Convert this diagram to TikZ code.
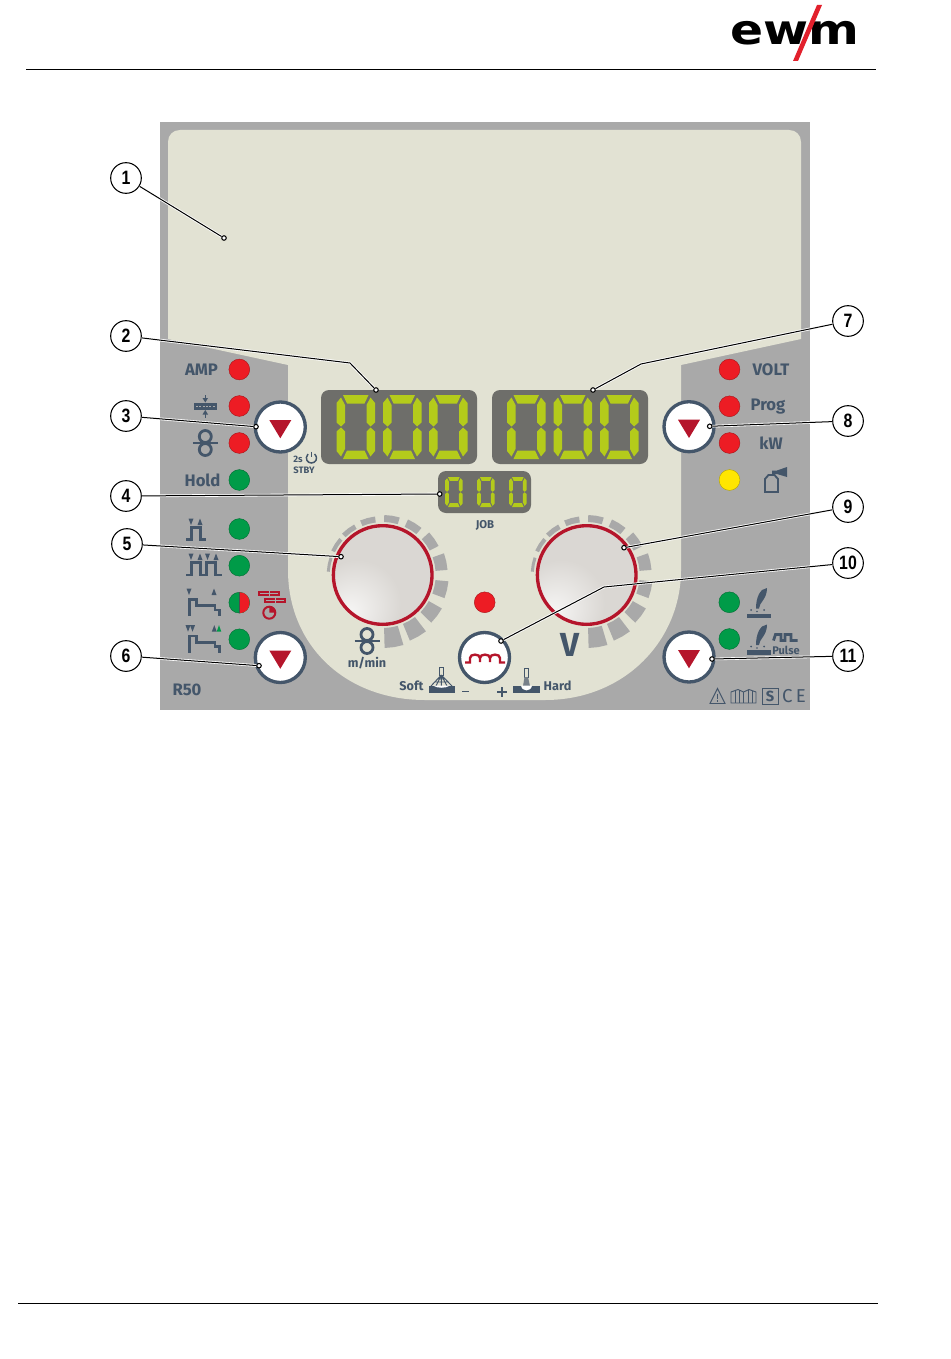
\documentclass[tikz,border=0pt]{standalone}
\usepackage{fontspec}
\setmainfont{Fira Sans}
\newfontfamily\numfont{Liberation Sans}
\newfontfamily\logofont{DejaVu Sans}
\definecolor{panelgrey}{HTML}{A9A9A9}
\definecolor{panelcream}{HTML}{E2E2D3}
\definecolor{slate}{HTML}{44566A}
\definecolor{dispgrey}{HTML}{6E6E6A}
\definecolor{seggreen}{HTML}{B4CB1B}
\definecolor{ledred}{HTML}{ED1C24}
\definecolor{ledgreen}{HTML}{009B48}
\definecolor{ledyellow}{HTML}{FFE600}
\definecolor{darkred}{HTML}{B5152B}
\definecolor{logored}{HTML}{E2202C}
\definecolor{knobmid}{HTML}{DAD7D3}
\definecolor{knobedge}{HTML}{BDBAB5}
\pgfdeclareradialshading{knobshade}{\pgfpoint{-18bp}{-20bp}}{color(0bp)=(white!80!knobmid);color(22bp)=(knobmid);color(68bp)=(knobmid);color(76bp)=(knobedge)}
\tikzset{
	led/.style={circle,minimum size=15.6pt,inner sep=0pt,line width=.3pt,draw=#1!70!black,fill=#1},
	btn/.style={circle,minimum size=37.5pt,inner sep=0pt,draw=slate,line width=2.5pt,fill=white},
	knob/.style={circle,minimum size=74pt,inner sep=0pt,draw=darkred,line width=2.5pt,shade,shading=knobshade},
	callout/.style={circle,minimum size=23pt,inner sep=0pt,draw=black,line width=.8pt,fill=white,font=\numfont\fontsize{14.5}{16}\selectfont\bfseries},
	enddot/.style={circle,minimum size=3.4pt,inner sep=0pt,draw=black,line width=.8pt,fill=white},
	leader/.style={draw=black,line width=.75pt,preaction={draw=white,line width=2pt}},
	lbl/.style={inner sep=0pt,text=slate,font=\fontsize{12.5}{14}\selectfont\bfseries},
	smalllbl/.style={inner sep=0pt,text=slate,font=\fontsize{7}{8}\selectfont\bfseries},
	icon/.style={draw=slate,line width=2.1pt,fill=none},
	thinicon/.style={draw=slate,line width=1pt,fill=none},
	triup/.pic={\fill[slate] (-2.5,5) -- (0,-1.5) -- (2.5,5) -- cycle;},
	tridown/.pic={\fill[slate] (-2.5,-1.5) -- (2.5,-1.5) -- (0,5) -- cycle;},
	% one digit 0 of the seven-segment display
	zerodigit/.pic={\fill[seggreen]
		(6.5,0) -- (32,0) -- (28,8.5) -- (10.5,8.5) -- cycle
		(6.5,64) -- (32,64) -- (28,55.5) -- (10.5,55.5) -- cycle
		(0,8) -- (4.5,2.5) -- (8.5,10) -- (8.5,27.5) -- (4.5,31.5) -- (0,27.5) -- cycle
		(0,56) -- (4.5,61.5) -- (8.5,54) -- (8.5,36.5) -- (4.5,32.5) -- (0,36.5) -- cycle
		(38.5,8) -- (34,2.5) -- (30,10) -- (30,27.5) -- (34,31.5) -- (38.5,27.5) -- cycle
		(38.5,56) -- (34,61.5) -- (30,54) -- (30,36.5) -- (34,32.5) -- (38.5,36.5) -- cycle;},
	wirefeed/.pic={
		\draw[icon] (0,-6.5) circle (6) (0,6.5) circle (6);
		\draw[icon] (-12.5,0) -- (12.5,0);},
	feather/.pic={
		\fill[slate] (20,.5) .. controls (13,1) and (9,10) .. (9,21) -- (12,21) .. controls (12,15) and (20,12) .. (20,.5) -- cycle;
		\fill[slate] (4,22.5) circle (1) (17,22.5) circle (1) (10,24) circle (.8);
		\fill[slate] (0,26) rectangle (24,30.5);},
}
\begin{document}
\begin{tikzpicture}[x=.75pt,y=-.75pt]
	\useasboundingbox (0,0) rectangle (950,1359);
	% header and footer
	\draw[line width=.75pt] (26,70) -- (876,70);
	\draw[line width=.75pt] (18,1303) -- (878,1303);
	\node[inner sep=0pt,xscale=1.18,font=\logofont\fontsize{31}{32}\selectfont\bfseries] (logo) at (794.5,33.5) {ewm};
	\fill[logored] (817,5) -- (822,5) -- (798,61) -- (793,61) -- cycle;
	% panel
	\fill[panelgrey] (160,122) rectangle (810,710);
	\fill[panelcream] (168,339) -- (168,142) .. controls (168,135) and (173,130) .. (180,130) -- (789,130)
		.. controls (796,130) and (801,135) .. (801,142) -- (801,339) -- (681,365) -- (681,570)
		.. controls (681,640) and (625,700) .. (545,700) -- (425,700)
		.. controls (345,700) and (288,645) .. (288,570) -- (288,365) -- cycle;
	% displays
	\fill[dispgrey,rounded corners=6pt] (321,390) rectangle (477,464);
	\fill[dispgrey,rounded corners=6pt] (492,390) rectangle (648,464);
	\fill[dispgrey,rounded corners=6pt] (438,471) rectangle (531,513);
	\foreach \x in {336.5,383,429,507,553.5,600}
		\pic at (\x,395) {zerodigit};
	\foreach \x in {445,477,509}
		\pic[xscale=.46,yscale=.47] at (\x,477) {zerodigit};
	% scale marks round the knobs
	\foreach \kx in {382.7,586.7}
		\foreach \c/\t in {-169/3,-147/4,-127/5,-105/6,-81/7,-58/8,-35/10,-12/12,13/13,37/15,60/18,81/20}
			\fill[panelgrey,shift={(\kx,575)}] (\c-7.5:53) -- (\c:53) -- (\c+7.5:53) -- (\c+7.5:53+\t) -- (\c:53+\t) -- (\c-7.5:53+\t) -- cycle;
	\node[knob] (knobL) at (382.7,575) {};
	\node[knob] (knobR) at (586.7,575) {};
	% leds
	\foreach \n/\x/\y in {a/239.3/369.5,b/239.3/406,c/239.3/443,d/729.5/369.5,e/729.5/406.3,f/729.5/443,g/484.7/602.3}
		\node[led=ledred] (led\n) at (\x,\y) {};
	\foreach \n/\x/\y in {h/239.3/480,i/239.3/529,j/239.3/565.7,k/239.3/639.3,l/729.3/602.3,m/729.3/639}
		\node[led=ledgreen] (led\n) at (\x,\y) {};
	\node[led=ledyellow] (ledn) at (729.5,480) {};
	\node[led=ledgreen] (ledo) at (239.3,602.7) {};
	\fill[ledred] (239.3,592.2) -- (239.3,613.2) .. controls (253,613.2) and (253,592.2) .. (239.3,592.2);
	\draw[line width=.6pt,black!70] (239.3,592.2) -- (239.3,613.2);
	% buttons
	\foreach \n/\x/\y in {a/280.3/427,b/280.3/657.5,c/689/426.7,d/689/657}{
		\node[btn] (btn\n) at (\x,\y) {};
		\fill[darkred,shift={(\x,\y)}] (-11,-7) -- (11,-7) -- (0,11.3) -- cycle;}
	\node[btn] (btne) at (484.5,657.5) {};
	\draw[darkred,line width=1.8pt] (465,662.5) -- (470,662.5) -- (470,658) .. controls (470,653.5) and (480,653.5) .. (480,658) -- (480,662)
		(480,658) .. controls (480,653.5) and (490,653.5) .. (490,658) -- (490,662)
		(490,658) .. controls (490,653.5) and (500,653.5) .. (500,658) -- (500,662.5) -- (505,662.5);
	% labels
	\node[lbl] (amp) at (201.5,370) {AMP};
	\node[lbl] (hold) at (202.5,480.5) {Hold};
	\node[lbl] (volt) at (771,370) {VOLT};
	\node[lbl] (prog) at (768,407) {Prog};
	\node[lbl] (kw) at (771,443.5) {kW};
	\node[lbl] (rfifty) at (187,690) {R50};
	\node[inner sep=0pt,text=slate,font=\fontsize{25}{26}\selectfont\bfseries] (volts) at (569.5,645) {V};
	\node[inner sep=0pt,text=slate,font=\fontsize{9.5}{11}\selectfont\bfseries] (mmin) at (367,663) {m/min};
	\node[inner sep=0pt,text=slate,font=\fontsize{9.5}{11}\selectfont\bfseries] (soft) at (411.5,686) {Soft};
	\node[inner sep=0pt,text=slate,font=\fontsize{9.5}{11}\selectfont\bfseries] (hard) at (557.5,686) {Hard};
	\node[inner sep=0pt,text=slate,font=\fontsize{8.5}{10}\selectfont\bfseries] (jobl) at (485,525) {JOB};
	\node[smalllbl] (twos) at (298,459) {2s};
	\node[smalllbl] (stby) at (304,470.5) {STBY};
	\node[inner sep=0pt,text=slate,font=\fontsize{8.3}{10}\selectfont\bfseries] (pulse) at (786,650) {Pulse};
	% 2s standby symbol
	\draw[thinicon,line width=1.1pt] (308,454) .. controls (304,459) and (308,463) .. (311.3,463) .. controls (315,463) and (319,459) .. (314.6,454);
	\draw[thinicon,line width=1.1pt] (311.3,451.5) -- (311.3,457);
	% left icons
	\fill[slate] (194,402.7) rectangle (217,410);
	\draw[panelgrey,line width=.7pt,dash pattern=on 1.5pt off 1pt] (196,406.3) -- (215,406.3);
	\draw[thinicon,line width=1.2pt] (205.3,395) -- (205.3,402) (205.3,411) -- (205.3,418);
	\fill[slate] (202.5,398) -- (208,398) -- (205.3,402.5) -- cycle (202.5,414.5) -- (208,414.5) -- (205.3,410) -- cycle;
	\pic at (205.3,443) {wirefeed};
	\pic at (367,641) {wirefeed};
	\draw[icon] (186,539.3) -- (191.7,539.3) -- (191.7,527.5) -- (200.7,527.5) -- (200.7,539.3) -- (206,539.3);
	\pic at (191,520) {tridown};
	\pic at (200,520) {triup};
	\draw[icon] (186,575) -- (191.7,575) -- (191.7,562.5) -- (200.7,562.5) -- (200.7,575) -- (206.7,575) -- (206.7,562.5) -- (215.7,562.5) -- (215.7,575) -- (222,575);
	\foreach \x in {191,207.5}
		\pic at (\x,555) {tridown};
	\foreach \x in {200,216}
		\pic at (\x,555) {triup};
	\draw[icon] (189.3,616) -- (189.3,599.3) -- (196.7,599.3) -- (196.7,605.7) -- (215,605.7) -- (215,610) -- (219.3,610) -- (219.3,616);
	\pic at (189,590) {tridown};
	\pic at (214,590) {triup};
	\draw[icon] (189.3,652.7) -- (189.3,636) -- (196.7,636) -- (196.7,642.4) -- (215,642.4) -- (215,646.7) -- (219.3,646.7) -- (219.3,652.7);
	\pic at (188,626.7) {tridown};
	\pic at (192.5,626.7) {tridown};
	\pic at (214.3,626.7) {triup};
	\fill[ledgreen] (216.7,631.7) -- (219,625.2) -- (221.3,631.7) -- cycle;
	% spot timer symbol
	\fill[darkred] (258,591) rectangle (280,596);
	\fill[darkred] (264,597.5) rectangle (286,602.5);
	\draw[panelgrey,line width=.5pt] (269,591) -- (269,596) (275,597.5) -- (275,602.5) (260,593.5) -- (278,593.5) (266,600) -- (284,600);
	\draw[darkred,line width=1.5pt] (269.3,612.7) circle (6);
	\fill[darkred] (269.3,612.7) -- (269.3,607) -- (273.5,608.5) -- (275,612.7) -- cycle;
	% gas bottle
	\draw[thinicon,line width=1.4pt] (765,492) -- (765,479) -- (768.5,475) -- (774.5,475) -- (778,479) -- (778,492) -- cycle;
	\fill[slate] (772,474) -- (772,470.5) -- (777,470.5) -- (787,467) -- (787,477) -- (777,474) -- cycle;
	% right icons
	\pic at (747,587.5) {feather};
	\pic at (747,624) {feather};
	\draw[icon,line width=2.1pt] (773.5,640.5) -- (775.5,634.5) -- (781,634.5) -- (781,640.5) -- (785,640.5) -- (785,634.5) -- (791,634.5) -- (791,640.5) -- (797.5,640.5);
	% bottom right marks
	\draw[thinicon,line width=.7pt] (710,703.5) -- (717.5,688.5) -- (725,703.5) -- cycle;
	\draw[thinicon,line width=1pt] (717.5,693.5) -- (717.5,699) (717.5,700.3) -- (717.5,701.8);
	\draw[thinicon,line width=.7pt] (731,703) -- (731,692) -- (738,689.5) -- (743.5,692) -- (749,689.5) -- (756,692) -- (756,703) -- cycle;
	\draw[thinicon,line width=.7pt] (735,691) -- (735,703) (739,690) -- (739,703) (743.5,692) -- (743.5,703) (748,690) -- (748,703) (752,691) -- (752,703);
	\draw[thinicon,line width=.7pt] (762,688.5) rectangle (778,704);
	\node[inner sep=0pt,text=slate,font=\fontsize{11}{12}\selectfont\bfseries] (sbox) at (770,696.3) {S};
	\node[inner sep=0pt,text=slate,font=\fontsize{14}{15}\selectfont] (cemark) at (794,696.5) {C\,E};
	% soft and hard symbols
	\draw[thinicon,line width=.7pt] (439.5,667.5) rectangle (443,675);
	\draw[thinicon,line width=.7pt] (441.3,675) -- (431,686) (441.3,675) -- (436,686) (441.3,675) -- (441.3,686) (441.3,675) -- (447,686) (441.3,675) -- (452,686) (435,682) -- (448,682) (437.5,679) -- (445,679);
	\fill[slate] (428.5,685.5) rectangle (455,693);
	\fill[white] (433,685.5) .. controls (437,688.5) and (446,688.5) .. (450,685.5) -- cycle;
	\draw[thinicon,line width=.7pt] (524.5,668.5) rectangle (528,677);
	\fill[slate!50!panelgrey] (524.5,677) -- (528,677) -- (530,686) -- (523,686) -- cycle;
	\fill[slate] (513,685.5) rectangle (540,693);
	\fill[white] (521,685.5) .. controls (522,692) and (531,692) .. (532,685.5) -- cycle;
	\draw[icon,line width=1.3pt] (462,691.5) -- (469,691.5) (497,691.7) -- (507,691.7) (502,687) -- (502,696.5);
	% callouts
	\foreach \n/\x/\y in {1/126/178,2/126/336,3/126/416,4/126/496,5/127/544,6/126/656,7/848/321,8/848/421,9/848/507,10/848/563,11/848/656}
		\node[callout] (c\n) at (\x,\y) {\scalebox{.82}[1]{\n}};
	\foreach \n/\x/\y in {1/224/238,2/376/390,3/256/426.7,4/439.7/494,5/341/556.7,6/259/665.7,7/593/390,8/709.7/426.3,9/624/547.7,10/501/641,11/712/659}
		\node[enddot] (d\n) at (\x,\y) {};
	\coordinate (k2) at (350,363);
	\coordinate (k7) at (641,364);
	\coordinate (k10) at (604,587);
	\draw[leader] (c1) -- (d1);
	\draw[leader] (c2) -- (k2) -- (d2);
	\draw[leader] (c3) -- (d3);
	\draw[leader] (c4) -- (d4);
	\draw[leader] (c5) -- (d5);
	\draw[leader] (c6) -- (d6);
	\draw[leader] (c7) -- (k7) -- (d7);
	\draw[leader] (c8) -- (d8);
	\draw[leader] (c9) -- (d9);
	\draw[leader] (c10) -- (k10) -- (d10);
	\draw[leader] (c11) -- (d11);
\end{tikzpicture}
\end{document}
